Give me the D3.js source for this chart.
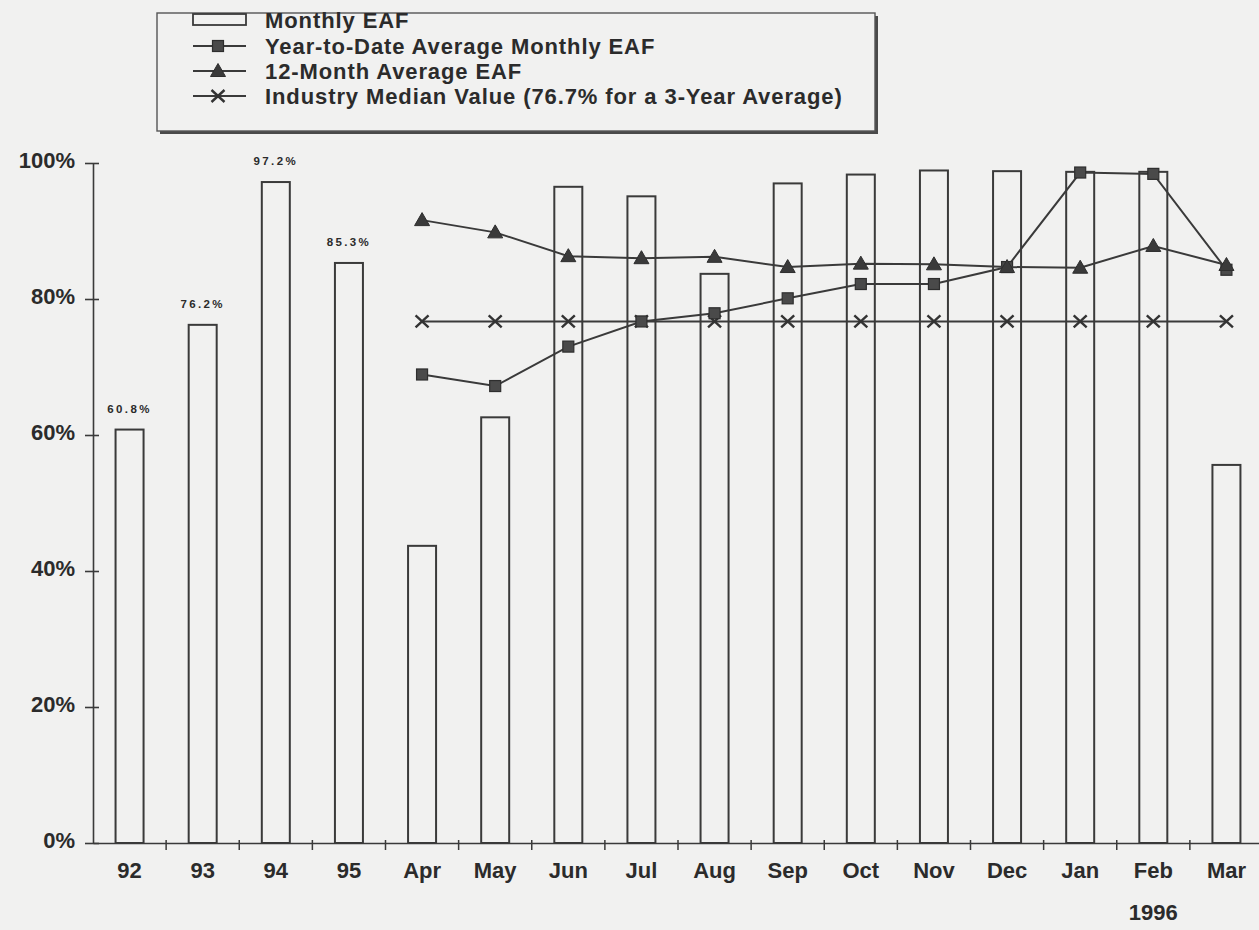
<!DOCTYPE html>
<html><head><meta charset="utf-8">
<script src="https://cdn.jsdelivr.net/npm/d3@7/dist/d3.min.js"></script>
<style>
html,body{margin:0;padding:0;background:#f1f1f0;}
svg{display:block;}
text{font-family:"Liberation Sans",Arial,sans-serif;fill:#2b2b2b;}
</style></head>
<body>
<svg id="chart" width="1259" height="930"></svg>
<script>
const categories = ["92","93","94","95","Apr","May","Jun","Jul","Aug","Sep","Oct","Nov","Dec","Jan","Feb","Mar"];
const monthlyEAF = [60.8,76.2,97.2,85.3,43.7,62.6,96.5,95.1,83.7,97.0,98.3,98.9,98.8,98.7,98.7,55.6];
const barLabels = ["60.8%","76.2%","97.2%","85.3%",null,null,null,null,null,null,null,null,null,null,null,null];
const lineCategories = ["Apr","May","Jun","Jul","Aug","Sep","Oct","Nov","Dec","Jan","Feb","Mar"];
const ytdAvg = [68.9,67.2,73.0,76.7,77.9,80.1,82.2,82.2,84.7,98.6,98.4,84.3];
const twelveMonthAvg = [91.6,89.8,86.3,86.0,86.2,84.7,85.2,85.1,84.7,84.6,87.8,85.0];
const industryMedian = [76.7,76.7,76.7,76.7,76.7,76.7,76.7,76.7,76.7,76.7,76.7,76.7];
const yTicks = [0,20,40,60,80,100];
const legendLabels = ["Monthly EAF","Year-to-Date Average Monthly EAF","12-Month Average EAF","Industry Median Value (76.7% for a 3-Year Average)"];
const yearLabel = "1996";

const ink = "#3a3a3a";
const txt = "#2b2b2b";
const svg = d3.select("#chart");

const x = d3.scaleBand().domain(categories).range([93,1263]).paddingInner(0.617).paddingOuter(0.3085);
const y = d3.scaleLinear().domain([0,100]).range([843,163]);
const cx = c => x(c) + x.bandwidth()/2;
const halfGap = x.step()*x.paddingInner()/2;

// bars
svg.append("g").selectAll("rect").data(categories).join("rect")
  .attr("x", c => x(c)).attr("width", x.bandwidth())
  .attr("y", (c,i) => y(monthlyEAF[i])).attr("height", (c,i) => y(0)-y(monthlyEAF[i]))
  .attr("fill","none").attr("stroke",ink).attr("stroke-width",2);

// bar labels
svg.append("g").selectAll("text").data(categories.filter((c,i)=>barLabels[i])).join("text")
  .attr("x", c => cx(c)).attr("y", c => y(monthlyEAF[categories.indexOf(c)]) - 17)
  .attr("text-anchor","middle").style("font-size","11.5px").style("font-weight","bold")
  .style("letter-spacing","2.4px")
  .text(c => barLabels[categories.indexOf(c)]);

// y axis
const yAxis = svg.append("g").attr("transform","translate(93,0)")
  .call(d3.axisLeft(y).tickValues(yTicks).tickFormat(d=>d+"%").tickSize(8).tickSizeOuter(0));
yAxis.select(".domain").attr("stroke",ink).attr("stroke-width",1.6);
yAxis.selectAll(".tick line").attr("x1",6).attr("stroke",ink).attr("stroke-width",1.6);
yAxis.selectAll(".tick text").attr("x",-18).attr("dy","0.2em")
  .style("font-size","22px").style("font-weight","bold").style("font-family","'Liberation Sans',Arial,sans-serif").attr("fill",txt);

// x axis
const xAxis = svg.append("g").attr("transform",`translate(0,${y(0)})`)
  .call(d3.axisBottom(x).tickSize(0).tickSizeOuter(0).tickPadding(19));
xAxis.select(".domain").attr("stroke",ink).attr("stroke-width",1.6);
xAxis.selectAll(".tick text").style("font-size","22px").style("font-weight","bold")
  .style("font-family","'Liberation Sans',Arial,sans-serif").attr("fill",txt);
svg.append("g").selectAll("line").data(categories.slice(1)).join("line")
  .attr("x1", c => x(c)-halfGap).attr("x2", c => x(c)-halfGap)
  .attr("y1", y(0)-3).attr("y2", y(0)+7).attr("stroke",ink).attr("stroke-width",1.5);

svg.append("text").attr("x", cx("Feb")).attr("y", 920).attr("text-anchor","middle")
  .style("font-size","22px").style("font-weight","bold").text(yearLabel);

// lines
const line = d3.line().x(d=>cx(d[0])).y(d=>y(d[1]));
function series(vals){ return lineCategories.map((c,i)=>[c,vals[i]]); }

function drawSquare(g, px, py){ g.append("rect").attr("x",px-5.5).attr("y",py-5.5).attr("width",11).attr("height",11)
  .attr("fill","#4a4a4a").attr("stroke","#2e2e2e").attr("stroke-width",1.2); }
function drawTriangle(g, px, py){ g.append("path").attr("d",`M${px},${py-7.5}L${px+7.5},${py+5.5}L${px-7.5},${py+5.5}Z`)
  .attr("fill","#3a3a3a").attr("stroke","#2e2e2e").attr("stroke-width",1); }
function drawX(g, px, py){ g.append("path").attr("d",`M${px-6.5},${py-6}L${px+6.5},${py+6}M${px+6.5},${py-6}L${px-6.5},${py+6}`)
  .attr("stroke","#333").attr("stroke-width",2.4).attr("fill","none"); }

const lineSeries = [
  {vals: industryMedian, mark: drawX},
  {vals: ytdAvg, mark: drawSquare},
  {vals: twelveMonthAvg, mark: drawTriangle}
];
lineSeries.forEach(s=>{
  const g = svg.append("g");
  g.append("path").datum(series(s.vals)).attr("d",line).attr("fill","none").attr("stroke",ink).attr("stroke-width",2);
  series(s.vals).forEach(d=>s.mark(g, cx(d[0]), y(d[1])));
});

// legend
const lg = svg.append("g");
lg.append("rect").attr("x",160).attr("y",16).attr("width",718).attr("height",118).attr("fill","#4a4a4a");
lg.append("rect").attr("x",157).attr("y",13).attr("width",718).attr("height",118)
  .attr("fill","#f1f1f0").attr("stroke","#555").attr("stroke-width",1.4);
const rows = [20,46,71,96];
const symX0 = 193, symX1 = 246, symC = 218;
lg.append("rect").attr("x",symX0).attr("y",rows[0]-6).attr("width",symX1-symX0).attr("height",11)
  .attr("fill","none").attr("stroke",ink).attr("stroke-width",1.8);
[[rows[1],drawSquare],[rows[2],drawTriangle],[rows[3],drawX]].forEach(([ry,fn])=>{
  lg.append("line").attr("x1",symX0).attr("x2",symX1).attr("y1",ry).attr("y2",ry).attr("stroke",ink).attr("stroke-width",2);
  fn(lg, symC, ry);
});
lg.selectAll("text.leg").data(legendLabels).join("text").attr("class","leg")
  .attr("x",265).attr("y",(d,i)=>rows[i]).attr("dy","0.36em")
  .style("font-size","22px").style("font-weight","bold").style("letter-spacing","0.9px").text(d=>d);
</script>
</body></html>
